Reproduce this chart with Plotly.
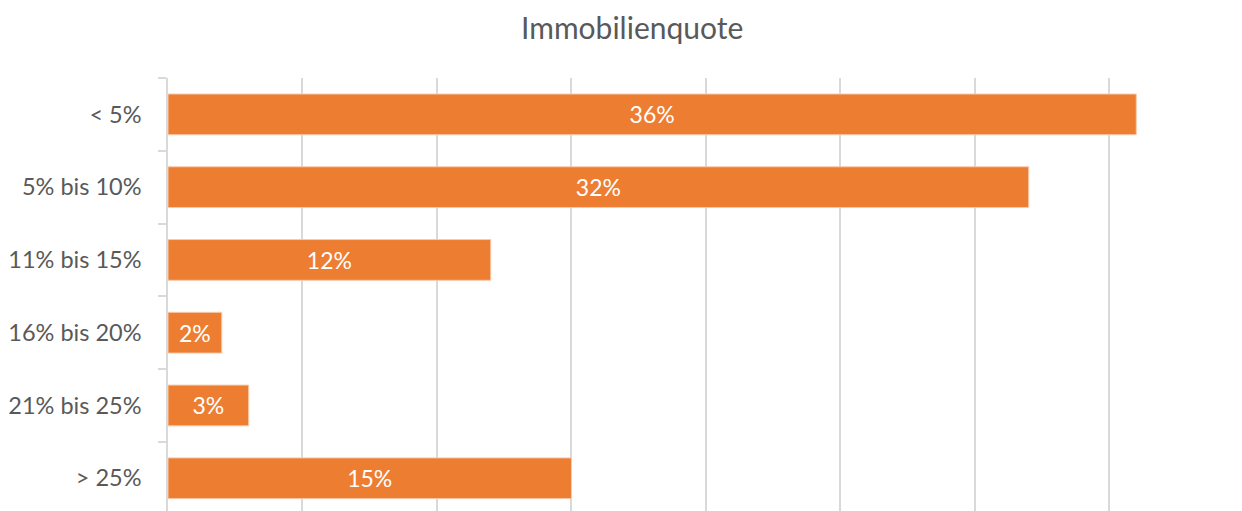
import plotly.graph_objects as go

# Share of real estate in the portfolio, by band
categories = ["< 5%", "5% bis 10%", "11% bis 15%", "16% bis 20%", "21% bis 25%", "> 25%"]
shares = [36, 32, 12, 2, 3, 15]
labels = [f"{v}%" for v in shares]

BAR_COLOR = "#ED7D31"
TEXT_GRAY = "#595959"
GRID_GRAY = "#D9D9D9"
FONT = "Lato, 'Open Sans', sans-serif"

fig = go.Figure(
    go.Bar(
        x=shares,
        y=categories,
        orientation="h",
        marker=dict(color=BAR_COLOR, line=dict(color="#F8CBAD", width=1)),
        width=0.56,
        text=labels,
        textposition="inside",
        insidetextanchor="middle",
        textfont=dict(color="white", size=23, family=FONT),
        hoverinfo="skip",
    )
)

fig.update_layout(
    width=1242,
    height=511,
    margin=dict(l=168, r=0, t=78, b=0),
    paper_bgcolor="white",
    plot_bgcolor="white",
    showlegend=False,
    title=dict(
        text="Immobilienquote",
        x=0.509,
        xanchor="center",
        y=0.945,
        yanchor="middle",
        font=dict(size=30, color=TEXT_GRAY, family=FONT),
    ),
    uniformtext=dict(mode=False),
)

fig.update_xaxes(
    range=[0, 39.93],
    dtick=5,
    showgrid=True,
    gridcolor=GRID_GRAY,
    gridwidth=1.5,
    showticklabels=False,
    zeroline=False,
    showline=False,
    fixedrange=True,
)

fig.update_yaxes(
    type="category",
    categoryorder="array",
    categoryarray=categories,
    range=[5.45, -0.5],
    tickson="boundaries",
    ticks="outside",
    ticklen=8,
    tickwidth=1.5,
    tickcolor=GRID_GRAY,
    showline=True,
    linecolor=GRID_GRAY,
    linewidth=1.5,
    showgrid=False,
    tickfont=dict(size=23.5, color=TEXT_GRAY, family=FONT),
    ticklabelstandoff=20,
    fixedrange=True,
)

fig.write_html("out.html")
